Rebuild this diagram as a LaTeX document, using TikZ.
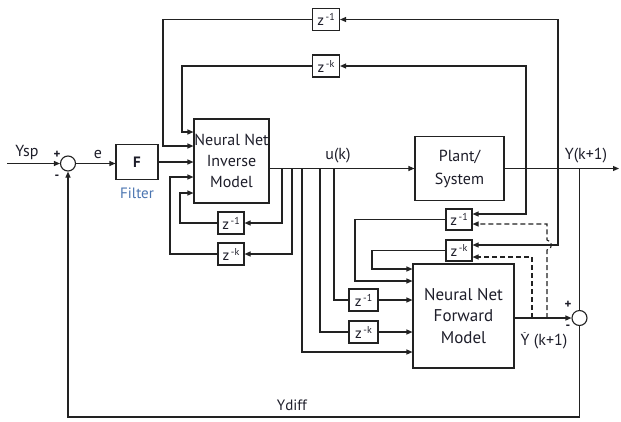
\documentclass[tikz,border=0pt]{standalone}
\usepackage{fontspec}
\setmainfont{PT Sans}
\usetikzlibrary{arrows.meta,calc}
\definecolor{lc}{HTML}{222222}
\definecolor{tc}{HTML}{1E1E2A}
\definecolor{fc}{HTML}{4A74B0}
\newcommand\zdel[1]{{\fontsize{15}{15}\selectfont z}\,\raisebox{5pt}{\fontsize{10}{10}\selectfont #1}}
\newcommand\ybar{\rlap{\raisebox{10.5pt}{\hspace{2.5pt}\fontsize{9}{9}\selectfont -}}Y}
\begin{document}
\begin{tikzpicture}[x=1pt,y=-1pt,line width=1.1pt,draw=lc,
  blk/.style={draw=lc,line width=1.1pt,fill=white,inner sep=0pt,text=tc,align=center},
  zb/.style={blk,minimum width=27pt,minimum height=22pt},
  sumc/.style={circle,draw=lc,line width=1.1pt,minimum size=15pt,inner sep=0pt},
  arr/.style={-{Triangle[length=6pt,width=5pt]}},
  dsh/.style={dash pattern=on 5pt off 3pt},
  lbl/.style={text=tc,font=\fontsize{16}{18}\selectfont,inner sep=0pt}]
\useasboundingbox (0,0) rectangle (621,421);
% blocks
\coordinate (ysp) at (7,163.5);
\node[sumc] (s1) at (68,163.5) {};
\node[blk,minimum width=42pt,minimum height=35pt,font=\fontsize{15}{17}\selectfont\bfseries] (F) at (137,162) {F};
\node[blk,minimum width=75pt,minimum height=84pt,font=\fontsize{16}{21}\selectfont] (inv) at (231.5,161) {Neural Net\\Inverse\\Model};
\node[blk,minimum width=89pt,minimum height=64pt,font=\fontsize{16}{23}\selectfont] (plant) at (459.5,168.5) {Plant/\\System};
\node[zb] (zt1) at (326,19.5) {\zdel{-1}};
\node[zb] (ztk) at (326,66) {\zdel{-k}};
\node[zb,minimum width=26pt] (zi1) at (231,223) {\zdel{-1}};
\node[zb,minimum width=26pt] (zik) at (231,254) {\zdel{-k}};
\node[blk,minimum width=101pt,minimum height=104pt,font=\fontsize{17}{21.5}\selectfont] (fwd) at (463.5,316) {Neural Net\\Forward\\Model};
\node[zb,minimum width=29pt] (zf1) at (363.5,300) {\zdel{-1}};
\node[zb,minimum width=29pt] (zfk) at (363.5,332) {\zdel{-k}};
\node[zb,minimum width=26pt,minimum height=21pt] (zr1) at (459,219.5) {\zdel{-1}};
\node[zb,minimum width=26pt,minimum height=21pt] (zrk) at (459,250.5) {\zdel{-k}};
\node[sumc] (s2) at (579.5,318) {};
\coordinate (yout) at (619,168.5);
% branch points
\coordinate (b1) at (282,168.5);
\coordinate (b2) at (292,168.5);
\coordinate (b3) at (302,168.5);
\coordinate (b4) at (320,168.5);
\coordinate (b5) at (334,168.5);
\coordinate (c1) at (526,168.5);
\coordinate (c2) at (558,168.5);
\coordinate (d1) at (532,318);
\coordinate (d2) at (547,318);
% main path
\draw[arr] (ysp) -- (s1.west);
\draw[arr] (s1.east) -- (s1 -| F.west);
\draw[arr] (F.east) -- (F.east -| inv.west);
\draw[arr] (inv.east |- plant.west) -- (plant.west);
\draw[arr] (plant.east) -- (yout);
% inverse model feedback
\draw[arr] (b1) |- (zi1.east);
\draw[arr] (b2) |- (zik.east);
\draw[arr] (zi1.west) -| (180,193) -- (inv.west |- 180,193);
\draw[arr] (zik.west) -| (170,177) -- (inv.west |- 170,177);
\draw[arr] (zt1.west) -| (163,146) -- (inv.west |- 163,146);
\draw[arr] (ztk.west) -| (182,132) -- (inv.west |- 182,132);
\draw[arr] (c2) |- (zt1.east);
\draw[arr] (c1) |- (ztk.east);
% forward model inputs
\draw[arr] (b3) |- (fwd.west |- 302,352);
\draw (b4) |- (zfk.west);
\draw (b5) |- (zf1.west);
\draw[arr] (zf1.east) -- (zf1.east -| fwd.west);
\draw[arr] (zfk.east) -- (zfk.east -| fwd.west);
\draw[arr] (c1) |- ($(zr1.east)+(0,-5.5)$);
\draw[arr] (c2) |- ($(zrk.east)+(0,-5.5)$);
\draw[arr] (zr1.west) -| (355,281) -- (fwd.west |- 355,281);
\draw[arr] (zrk.west) -| (372,269) -- (fwd.west |- 372,269);
% forward output
\draw[arr] (fwd.east |- s2) -- (s2.west);
\draw[dsh,arr] (d1) |- ($(zrk.east)+(0,6.5)$);
\draw[dsh,arr] (d2) -- (547,250) .. controls (553,249) and (553,241) .. (547,240) |- ($(zr1.east)+(0,4.5)$);
\draw (s2.north) -- (s2.north |- plant.east);
\draw[arr] (s2.south) -- (s2.south |- 0,417) -| (s1.south);
% labels
\node[lbl] (lysp) at (27,152) {Ysp};
\node[lbl,font=\fontsize{13}{13}\selectfont\bfseries] (lp1) at (57,155) {+};
\node[lbl,font=\fontsize{13}{13}\selectfont\bfseries] (lm1) at (57,177) {-};
\node[lbl,font=\fontsize{16}{18}\selectfont] (le) at (98,154) {e};
\node[lbl,text=fc,font=\fontsize{15}{17}\selectfont] (lfil) at (137,193) {Filter};
\node[lbl] (luk) at (338,156) {u(k)};
\node[lbl] (lyk) at (586,156) {Y(k+1)};
\node[lbl,font=\fontsize{13}{13}\selectfont\bfseries] (lp2) at (568,305) {+};
\node[lbl,font=\fontsize{13}{13}\selectfont\bfseries] (lm2) at (568,327) {-};
\node[lbl] (lyh) at (544,341) {\ybar\ (k+1)};
\node[lbl,font=\fontsize{15}{17}\selectfont] (ldiff) at (292,405) {Ydiff};
\end{tikzpicture}
\end{document}
